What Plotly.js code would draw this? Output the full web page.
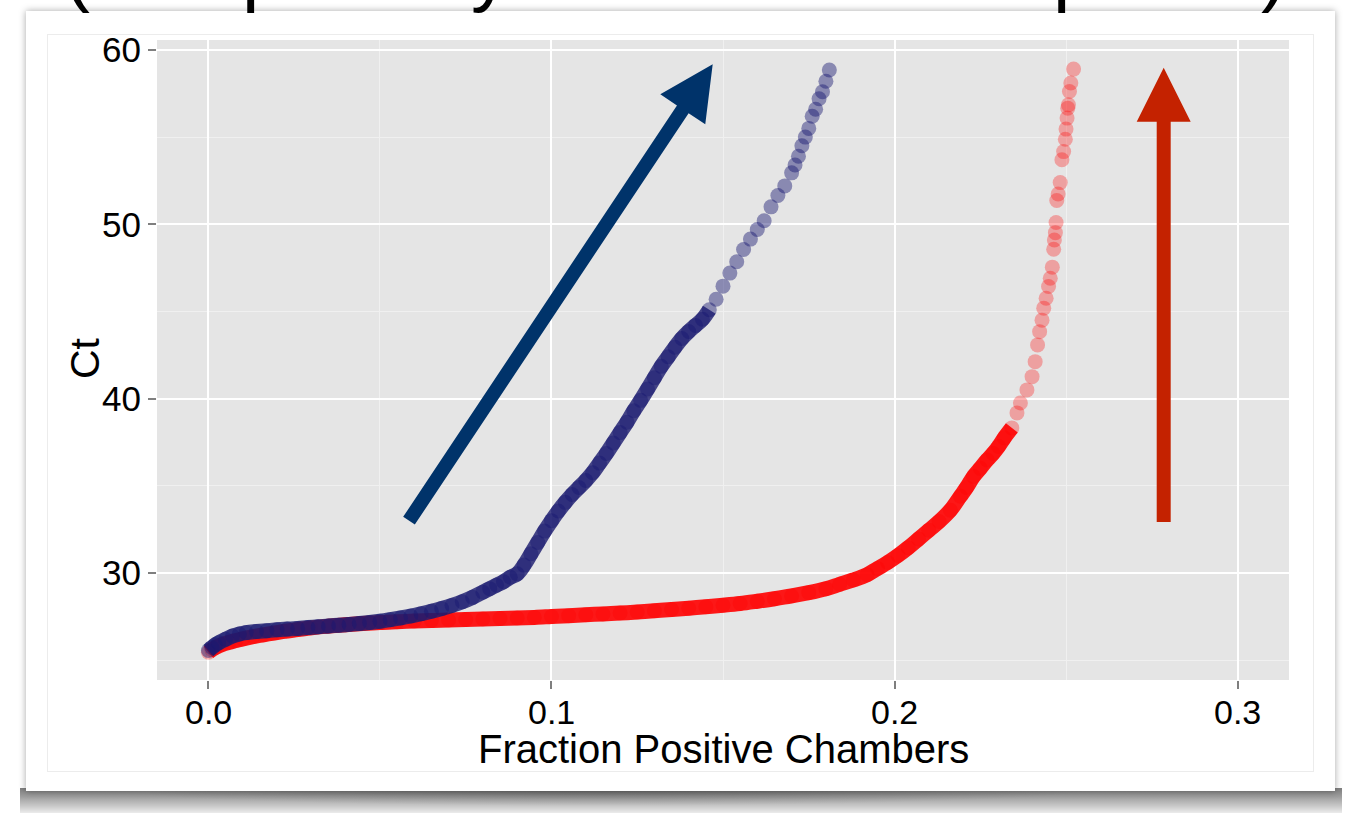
<!DOCTYPE html>
<html>
<head>
<meta charset="utf-8">
<script src="https://cdn.plot.ly/plotly-3.0.1.min.js"></script>
<style>
  html, body { margin: 0; padding: 0; background: #ffffff; }
  body { width: 1345px; height: 813px; position: relative; overflow: hidden; font-family: "Liberation Sans", Arial, sans-serif; }
  #curl { position: absolute; left: 20px; top: 788px; width: 1322px; height: 25px;
          background: linear-gradient(to bottom, rgba(0,0,0,0.5) 0%, rgba(0,0,0,0.38) 35%, rgba(0,0,0,0.2) 75%, rgba(0,0,0,0.08) 100%); }
  #curl2 { position: absolute; left: 150px; top: 788px; width: 1000px; height: 18px;
          background: radial-gradient(ellipse 50% 100% at 45% 0%, rgba(0,0,0,0.25), rgba(0,0,0,0) 100%); }
  #card { position: absolute; left: 26px; top: 11px; width: 1309px; height: 780px; background: #ffffff;
          box-shadow: 0 0 7px rgba(0,0,0,0.35); }
  #frame { position: absolute; left: 47px; top: 34px; width: 1265px; height: 736px; border: 1px solid #ececec; }
  #toptext { position: absolute; left: 0; top: 0; }
  #plot { position: absolute; left: 0; top: 0; width: 1345px; height: 813px; }
</style>
</head>
<body>
<div id="curl"></div>
<div id="curl2"></div>
<div id="card"></div>
<div id="frame"></div>
<svg id="toptext" width="1345" height="813">
  <g font-family="Liberation Sans, Arial, sans-serif" font-size="78" fill="#000">
    <text x="64" y="-3">(</text>
    <text x="242" y="-3">p</text>
    <text x="471" y="-3">y</text>
    <text x="1053" y="-3">p</text>
    <text x="1261" y="-3">)</text>
  </g>
</svg>
<div id="plot"></div>
<script>
// ---------------- data ----------------
var blueX = [0.000,0.001,0.002,0.003,0.005,0.007,0.009,0.011,0.014,0.017,0.020,0.023,0.026,0.029,0.032,0.035,0.038,0.041,0.044,0.047,0.050,0.053,0.056,0.059,0.062,0.065,0.068,0.071,0.074,0.077,0.080,0.082,0.084,0.086,0.088,0.090,0.092,0.094,0.096,0.098,0.100,0.102,0.104,0.106,0.108,0.110,0.112,0.114,0.116,0.118,0.120,0.122,0.124,0.126,0.128,0.130,0.132,0.134,0.136,0.138,0.140,0.142,0.144,0.146,0.148,0.150,0.152,0.154,0.156,0.158,0.160,0.162,0.164,0.166,0.168,0.170,0.171,0.172,0.173,0.174,0.175,0.176,0.177,0.178,0.179,0.180,0.181];
var blueY = [25.55,25.72,25.88,26.00,26.20,26.38,26.50,26.58,26.64,26.69,26.74,26.78,26.82,26.87,26.91,26.96,27.00,27.05,27.10,27.16,27.23,27.32,27.42,27.53,27.66,27.80,27.96,28.14,28.35,28.60,28.90,29.10,29.30,29.50,29.75,29.95,30.45,31.10,31.75,32.40,33.00,33.55,34.05,34.50,34.90,35.30,35.75,36.30,36.85,37.45,38.05,38.65,39.30,39.90,40.55,41.20,41.85,42.40,42.95,43.45,43.85,44.20,44.55,45.10,45.70,46.45,47.20,47.85,48.55,49.15,49.70,50.20,51.00,51.65,52.20,52.95,53.40,53.90,54.50,55.00,55.50,56.20,56.60,57.20,57.60,58.20,58.85];

var redX = [0.000,0.001,0.002,0.004,0.006,0.008,0.010,0.013,0.016,0.019,0.022,0.026,0.030,0.035,0.040,0.045,0.050,0.055,0.060,0.065,0.070,0.075,0.080,0.085,0.090,0.095,0.100,0.105,0.110,0.115,0.120,0.125,0.130,0.135,0.140,0.145,0.150,0.155,0.160,0.165,0.170,0.175,0.180,0.184,0.188,0.192,0.195,0.198,0.201,0.204,0.207,0.210,0.213,0.2163,0.2192,0.221,0.223,0.225,0.227,0.2287,0.2303,0.232,0.2342,0.2357,0.2367,0.2386,0.2401,0.241,0.2417,0.2423,0.243,0.2435,0.2442,0.2449,0.2454,0.246,0.2464,0.2466,0.2469,0.2471,0.2473,0.2477,0.2483,0.2488,0.2493,0.2498,0.2500,0.2503,0.2505,0.2507,0.2510,0.2514,0.2522];
var redY = [25.45,25.60,25.72,25.90,26.02,26.12,26.22,26.35,26.45,26.55,26.65,26.75,26.85,26.95,27.03,27.10,27.16,27.20,27.24,27.27,27.30,27.33,27.36,27.39,27.42,27.45,27.50,27.55,27.60,27.65,27.70,27.76,27.83,27.90,27.98,28.06,28.15,28.25,28.38,28.52,28.68,28.87,29.10,29.35,29.60,29.90,30.25,30.60,31.00,31.45,31.95,32.45,32.95,33.60,34.40,34.90,35.53,36.00,36.48,36.85,37.25,37.75,38.32,39.18,39.75,40.50,41.26,42.12,43.08,43.84,44.50,45.19,45.76,46.43,46.90,47.54,48.57,49.10,49.52,50.10,51.36,51.74,52.39,53.70,54.17,54.88,55.46,56.09,56.66,56.85,57.62,58.10,58.90];

var xTickVals = [0, 0.1, 0.2, 0.3];
var xTickText = ["0.0", "0.1", "0.2", "0.3"];
var yTickVals = [30, 40, 50, 60];
var yTickText = ["30", "40", "50", "60"];
var xTitle = "Fraction Positive Chambers";
var yTitle = "Ct";

// ---------------- layout geometry ----------------
var W = 1345, H = 813;
var mL = 157, mR = 56, mT = 40, mB = 133;
var plotW = W - mL - mR, plotH = H - mT - mB;
function px(x) { return (x - mL) / plotW; }
function py(y) { return (H - mB - y) / plotH; }

function arrowPath(tx, ty, hx, hy, shaftHalf, headHalf, headLen) {
  var dx = hx - tx, dy = hy - ty, L = Math.sqrt(dx*dx + dy*dy);
  var ux = dx / L, uy = dy / L, nx = -uy, ny = ux;
  var bx = hx - ux*headLen, by = hy - uy*headLen;
  var pts = [
    [tx + nx*shaftHalf, ty + ny*shaftHalf],
    [bx + nx*shaftHalf, by + ny*shaftHalf],
    [bx + nx*headHalf, by + ny*headHalf],
    [hx, hy],
    [bx - nx*headHalf, by - ny*headHalf],
    [bx - nx*shaftHalf, by - ny*shaftHalf],
    [tx - nx*shaftHalf, ty - ny*shaftHalf]
  ];
  return pts.map(function(p, i) { return (i ? "L" : "M") + px(p[0]).toFixed(5) + "," + py(p[1]).toFixed(5); }).join(" ") + " Z";
}

var blueCore = 64;  // dense part drawn as a solid band
var redCore = 63;

var traces = [
  { x: redX.slice(0, redCore), y: redY.slice(0, redCore), mode: "lines", type: "scatter",
    line: { color: "rgba(255,0,0,0.9)", width: 15, shape: "spline", smoothing: 1 }, hoverinfo: "skip", showlegend: false },
  { x: redX, y: redY, mode: "markers", type: "scatter",
    marker: { color: "rgba(255,0,0,0.3)", size: 15, line: { width: 0 } }, showlegend: false },
  { x: blueX.slice(0, blueCore), y: blueY.slice(0, blueCore), mode: "lines", type: "scatter",
    line: { color: "rgba(30,30,112,0.82)", width: 15, shape: "spline", smoothing: 1 }, hoverinfo: "skip", showlegend: false },
  { x: blueX, y: blueY, mode: "markers", type: "scatter",
    marker: { color: "rgba(25,25,112,0.45)", size: 15, line: { width: 0 } }, showlegend: false }
];

var fontFam = "Liberation Sans, Arial, sans-serif";

var annotations = xTickVals.map(function(v, i) {
  return { text: xTickText[i], xref: "x", yref: "paper", x: v, y: py(712), xanchor: "center", yanchor: "middle",
           showarrow: false, font: { size: 34, family: fontFam, color: "#000" } };
});
annotations.push(
  { text: xTitle, xref: "paper", yref: "paper", x: 0.5, y: py(749), xanchor: "center", yanchor: "middle",
    showarrow: false, font: { size: 40, family: fontFam, color: "#000" } },
  { text: yTitle, xref: "paper", yref: "paper", x: px(85), y: py(358), xanchor: "center", yanchor: "middle",
    textangle: -90, showarrow: false, font: { size: 41, family: fontFam, color: "#000" } }
);

var layout = {
  width: W, height: H,
  margin: { l: mL, r: mR, t: mT, b: mB, pad: 0 },
  paper_bgcolor: "rgba(0,0,0,0)",
  plot_bgcolor: "#E5E5E5",
  showlegend: false,
  font: { family: fontFam, color: "#000" },
  xaxis: {
    range: [-0.015, 0.315], tickmode: "array", tickvals: xTickVals, ticktext: xTickText, showticklabels: false,
    showgrid: true, gridcolor: "#FFFFFF", gridwidth: 2, zeroline: false, showline: false,
    ticks: "outside", ticklen: 8, tickwidth: 2, tickcolor: "#7F7F7F",
    minor: { tickvals: [0.05, 0.15, 0.25], showgrid: true, gridcolor: "#F0F0F0", gridwidth: 1, ticks: "" },
    automargin: false, fixedrange: true
  },
  yaxis: {
    range: [23.86, 60.57], tickmode: "array", tickvals: yTickVals, ticktext: yTickText,
    showgrid: true, gridcolor: "#FFFFFF", gridwidth: 2, zeroline: false, showline: false,
    ticks: "outside", ticklen: 8, tickwidth: 2, tickcolor: "#7F7F7F",
    tickfont: { size: 35, family: fontFam, color: "#000" },
    minor: { tickvals: [25, 35, 45, 55], showgrid: true, gridcolor: "#F0F0F0", gridwidth: 1, ticks: "" },
    automargin: false, fixedrange: true
  },
  annotations: annotations,
  shapes: [
    { type: "path", xref: "paper", yref: "paper", layer: "above",
      path: arrowPath(409, 520.7, 712.7, 64.3, 7, 27, 54),
      fillcolor: "#00336A", line: { width: 0 } },
    { type: "path", xref: "paper", yref: "paper", layer: "above",
      path: arrowPath(1163.7, 522, 1163.7, 67.7, 7, 27, 54),
      fillcolor: "#C42200", line: { width: 0 } }
  ]
};

Plotly.newPlot("plot", traces, layout, { displayModeBar: false, staticPlot: true });
</script>
</body>
</html>
